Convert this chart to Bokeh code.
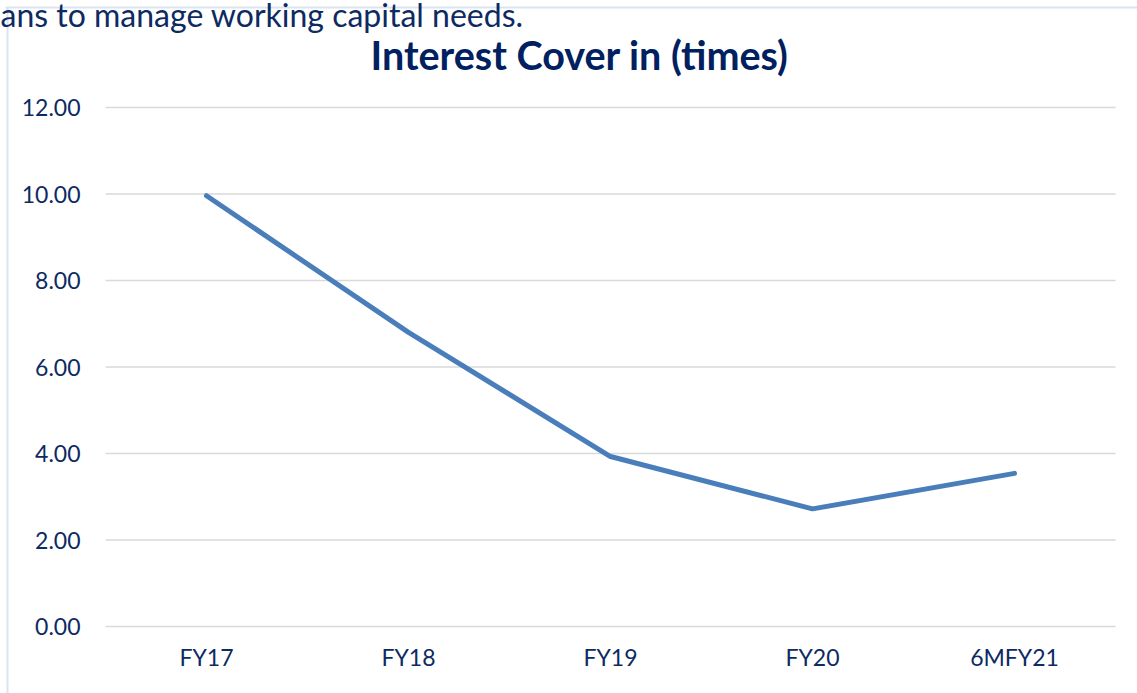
from bokeh.plotting import figure
from bokeh.models import Range1d, Label, NumeralTickFormatter, FixedTicker
from bokeh.embed import file_html
from bokeh.resources import INLINE

# ---- data ----
categories = ["FY17", "FY18", "FY19", "FY20", "6MFY21"]
interest_cover = [9.96, 6.80, 3.93, 2.72, 3.54]
y_ticks = [0, 2, 4, 6, 8, 10, 12]
title_text = "Interest Cover in (times)"
top_text = "ans to manage working capital needs."

# ---- geometry (plot area of the original chart, in pixels) ----
W, H = 1137, 693
FL, FR, FT, FB = 105, 1115, 107, 626
YMAX = 12
N = len(categories)
XU = (FR - FL) / N          # px per category
YU = (FB - FT) / YMAX       # px per unit

def sx(px):
    return (px - FL) / XU

def sy(py):
    return (FB - py) / YU

NAVY = "#0d2a62"
TITLE_NAVY = "#002060"
LINE = "#4a7ebb"
FONT = "Lato"

xs = [i + 0.5 for i in range(N)]

p = figure(width=W, height=H, x_range=Range1d(sx(0), sx(W)),
           y_range=Range1d(sy(H), sy(0)), output_backend="svg",
           toolbar_location=None, title=None, min_border=0)
p.min_border_left = 0
p.min_border_right = 0
p.min_border_top = 0
p.min_border_bottom = 0
p.outline_line_color = None
p.background_fill_color = "white"
p.border_fill_color = "white"
p.xgrid.visible = False
p.ygrid.visible = False

# decorative light-blue frame fragments of the surrounding page
p.line([sx(5), sx(W + 5)], [sy(7), sy(7)], line_color="#dbe5f1", line_width=2)
p.line([sx(7), sx(7)], [sy(7), sy(H + 5)], line_color="#dbe5f1", line_width=2)

# horizontal gridlines across the plot area
p.segment(x0=[0] * len(y_ticks), x1=[N] * len(y_ticks), y0=y_ticks, y1=y_ticks,
          line_color="#d9d9d9", line_width=1.5)

p.line(xs, interest_cover, line_color=LINE, line_width=5,
       line_cap="round", line_join="round")

# axes pinned to the plot-area edges
p.yaxis.fixed_location = 0
p.xaxis.fixed_location = 0
p.yaxis.ticker = FixedTicker(ticks=y_ticks)
p.yaxis.formatter = NumeralTickFormatter(format="0.00")
p.xaxis.ticker = FixedTicker(ticks=xs)
p.xaxis.major_label_overrides = {x: c for x, c in zip(xs, categories)}
for ax in (p.xaxis, p.yaxis):
    ax.axis_line_color = None
    ax.major_tick_line_color = None
    ax.minor_tick_line_color = None
    ax.major_tick_in = 0
    ax.major_tick_out = 0
    ax.major_label_text_font = FONT
    ax.major_label_text_font_size = "23px"
    ax.major_label_text_color = NAVY
p.yaxis.major_label_standoff = 25
p.xaxis.major_label_standoff = 16

# title and page text above the chart
p.add_layout(Label(x=sx(370), y=sy(54), text=title_text,
                   text_font=FONT, text_font_style="bold",
                   text_font_size="39.5px", text_color=TITLE_NAVY,
                   text_align="left", text_baseline="alphabetic"))
p.add_layout(Label(x=sx(0), y=sy(14), text=top_text,
                   text_font=FONT, text_font_size="32px", text_color=NAVY,
                   text_align="left", text_baseline="alphabetic"))

open("out.html", "w").write(file_html(p, INLINE))
